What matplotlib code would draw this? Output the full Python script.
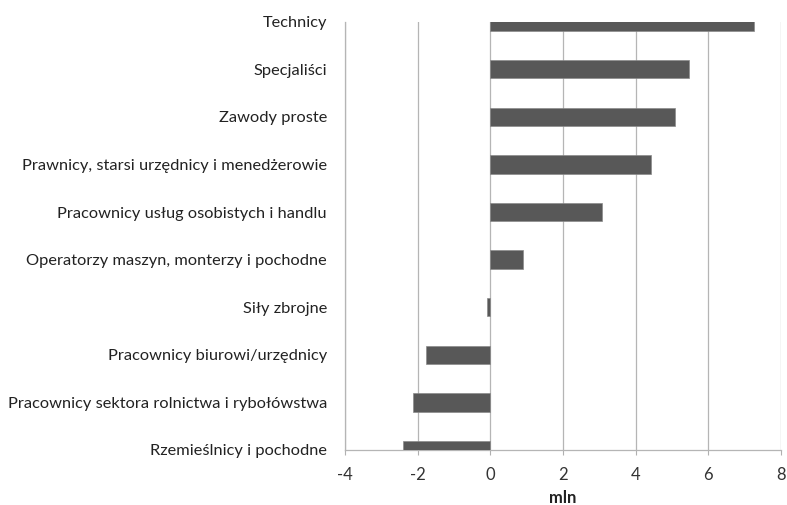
import matplotlib
matplotlib.use("Agg")
import matplotlib.pyplot as plt

categories = [
    "Rzemieślnicy i pochodne",
    "Pracownicy sektora rolnictwa i rybołówstwa",
    "Pracownicy biurowi/urzędnicy",
    "Siły zbrojne",
    "Operatorzy maszyn, monterzy i pochodne",
    "Pracownicy usług osobistych i handlu",
    "Prawnicy, starsi urzędnicy i menedżerowie",
    "Zawody proste",
    "Specjaliści",
    "Technicy",
]
values = [-2.41, -2.14, -1.77, -0.08, 0.91, 3.07, 4.43, 5.08, 5.47, 7.25]
xticks = [-4, -2, 0, 2, 4, 6, 8]
xlabel = "mln"

plt.rcParams['font.family'] = ['Lato', 'DejaVu Sans']

fig = plt.figure(figsize=(7.87, 5.05), dpi=100)
ax = fig.add_axes([345/787, 1-450/505, (781-345)/787, (450-21.7)/505])

ypos = list(range(len(categories)))
ax.barh(ypos, values, height=0.385, color="#585858", edgecolor="#8a8a8a", linewidth=0.5, zorder=3)

ax.set_xlim(-4, 8)
ax.set_ylim(0, len(categories) - 1)
ax.set_xticks(xticks)
ax.set_xticklabels([str(t) for t in xticks], fontsize=12, color="#333333")
ax.set_yticks(ypos)
ax.set_yticklabels(categories, fontsize=11.8, color="#222222")
ax.tick_params(axis='y', length=0, pad=13)
ax.tick_params(axis='x', length=3.5, width=0.8, color="#b0b0b0", pad=8.5)

for x in xticks:
    ax.axvline(x, color="#b5b5b5", linewidth=0.9, zorder=1)

for s in ['top', 'right']:
    ax.spines[s].set_visible(False)
ax.spines['left'].set_color("#b5b5b5")
ax.spines['bottom'].set_color("#b5b5b5")
ax.spines['left'].set_linewidth(0.9)
ax.spines['bottom'].set_linewidth(0.9)

ax.set_xlabel(xlabel, fontsize=12, fontweight='bold', color="#222222", labelpad=5)

fig.savefig("out.png", dpi=100)
